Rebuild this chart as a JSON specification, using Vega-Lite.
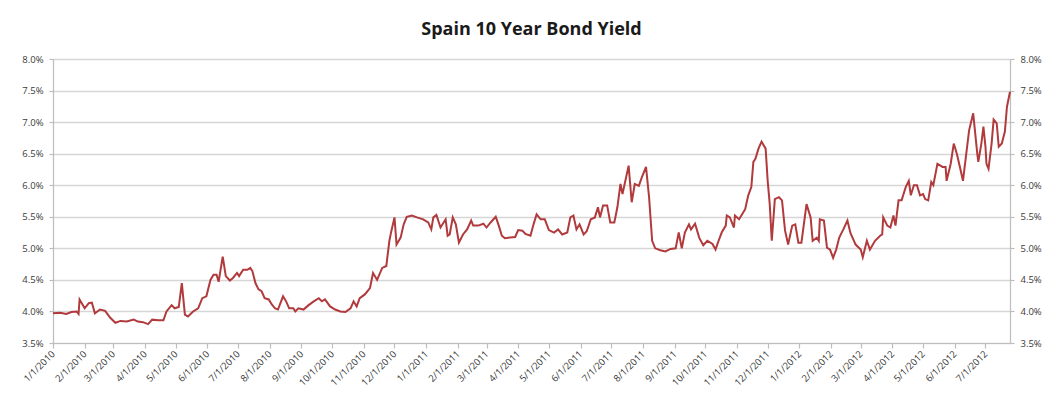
{
  "$schema": "https://vega.github.io/schema/vega-lite/v6.json",
  "width": 957,
  "height": 284,
  "autosize": "none",
  "padding": {"left": 53, "right": 33, "top": 59, "bottom": 55},
  "background": "white",
  "title": {"text": "Spain 10 Year Bond Yield", "fontSize": 18, "fontWeight": "bold", "font": "Open Sans", "color": "#1a1a1a", "offset": 15, "anchor": "middle"},
  "config": {
    "view": {"stroke": null},
    "axis": {"labelFont": "Open Sans", "labelFontSize": 9.5, "labelColor": "#3a3a3a", "domainColor": "#bdbdbd", "tickColor": "#bdbdbd", "gridColor": "#d6d6d6", "gridWidth": 1.3, "domainWidth": 1.2, "tickWidth": 1.2, "title": null}
  },
  "data": {
    "format": {"parse": {"date": "date:'%Y-%m-%d'"}},
    "values": [
      {"date": "2010-01-01", "yield": 3.97},
      {"date": "2010-01-08", "yield": 3.98},
      {"date": "2010-01-14", "yield": 3.96},
      {"date": "2010-01-19", "yield": 3.99},
      {"date": "2010-01-24", "yield": 4.0},
      {"date": "2010-01-26", "yield": 3.96},
      {"date": "2010-01-27", "yield": 4.19},
      {"date": "2010-02-01", "yield": 4.05},
      {"date": "2010-02-05", "yield": 4.13},
      {"date": "2010-02-08", "yield": 4.14},
      {"date": "2010-02-11", "yield": 3.97},
      {"date": "2010-02-16", "yield": 4.03},
      {"date": "2010-02-21", "yield": 4.01},
      {"date": "2010-02-26", "yield": 3.9},
      {"date": "2010-03-03", "yield": 3.82},
      {"date": "2010-03-08", "yield": 3.85},
      {"date": "2010-03-14", "yield": 3.84},
      {"date": "2010-03-21", "yield": 3.87},
      {"date": "2010-03-25", "yield": 3.84},
      {"date": "2010-03-30", "yield": 3.83},
      {"date": "2010-04-04", "yield": 3.8},
      {"date": "2010-04-08", "yield": 3.87},
      {"date": "2010-04-14", "yield": 3.86},
      {"date": "2010-04-19", "yield": 3.86},
      {"date": "2010-04-22", "yield": 4.0},
      {"date": "2010-04-27", "yield": 4.1},
      {"date": "2010-04-30", "yield": 4.05},
      {"date": "2010-05-04", "yield": 4.07},
      {"date": "2010-05-07", "yield": 4.45},
      {"date": "2010-05-10", "yield": 3.95},
      {"date": "2010-05-13", "yield": 3.92},
      {"date": "2010-05-18", "yield": 4.0},
      {"date": "2010-05-23", "yield": 4.05},
      {"date": "2010-05-27", "yield": 4.21},
      {"date": "2010-05-31", "yield": 4.24},
      {"date": "2010-06-04", "yield": 4.5},
      {"date": "2010-06-07", "yield": 4.58},
      {"date": "2010-06-10", "yield": 4.58},
      {"date": "2010-06-12", "yield": 4.47},
      {"date": "2010-06-16", "yield": 4.87},
      {"date": "2010-06-19", "yield": 4.56},
      {"date": "2010-06-23", "yield": 4.49},
      {"date": "2010-06-26", "yield": 4.53},
      {"date": "2010-06-30", "yield": 4.61},
      {"date": "2010-07-02", "yield": 4.56},
      {"date": "2010-07-06", "yield": 4.66},
      {"date": "2010-07-10", "yield": 4.66},
      {"date": "2010-07-13", "yield": 4.69},
      {"date": "2010-07-15", "yield": 4.64},
      {"date": "2010-07-18", "yield": 4.45},
      {"date": "2010-07-21", "yield": 4.35},
      {"date": "2010-07-24", "yield": 4.32},
      {"date": "2010-07-27", "yield": 4.21},
      {"date": "2010-07-31", "yield": 4.19},
      {"date": "2010-08-03", "yield": 4.11},
      {"date": "2010-08-06", "yield": 4.05},
      {"date": "2010-08-09", "yield": 4.03},
      {"date": "2010-08-14", "yield": 4.24},
      {"date": "2010-08-17", "yield": 4.16},
      {"date": "2010-08-20", "yield": 4.05},
      {"date": "2010-08-24", "yield": 4.05},
      {"date": "2010-08-26", "yield": 4.0},
      {"date": "2010-08-29", "yield": 4.05},
      {"date": "2010-09-03", "yield": 4.03},
      {"date": "2010-09-08", "yield": 4.1},
      {"date": "2010-09-13", "yield": 4.16},
      {"date": "2010-09-18", "yield": 4.21},
      {"date": "2010-09-21", "yield": 4.16},
      {"date": "2010-09-24", "yield": 4.19},
      {"date": "2010-09-29", "yield": 4.08},
      {"date": "2010-10-04", "yield": 4.03},
      {"date": "2010-10-09", "yield": 4.0},
      {"date": "2010-10-14", "yield": 3.99},
      {"date": "2010-10-19", "yield": 4.05},
      {"date": "2010-10-22", "yield": 4.16},
      {"date": "2010-10-25", "yield": 4.08},
      {"date": "2010-10-28", "yield": 4.21},
      {"date": "2010-11-02", "yield": 4.27},
      {"date": "2010-11-07", "yield": 4.37},
      {"date": "2010-11-10", "yield": 4.61},
      {"date": "2010-11-14", "yield": 4.5},
      {"date": "2010-11-19", "yield": 4.69},
      {"date": "2010-11-23", "yield": 4.72},
      {"date": "2010-11-26", "yield": 5.12},
      {"date": "2010-11-28", "yield": 5.28},
      {"date": "2010-12-01", "yield": 5.49},
      {"date": "2010-12-03", "yield": 5.06},
      {"date": "2010-12-07", "yield": 5.17},
      {"date": "2010-12-10", "yield": 5.38},
      {"date": "2010-12-13", "yield": 5.5},
      {"date": "2010-12-18", "yield": 5.52},
      {"date": "2010-12-23", "yield": 5.49},
      {"date": "2010-12-29", "yield": 5.46},
      {"date": "2011-01-03", "yield": 5.41},
      {"date": "2011-01-06", "yield": 5.3},
      {"date": "2011-01-08", "yield": 5.49},
      {"date": "2011-01-11", "yield": 5.53},
      {"date": "2011-01-15", "yield": 5.33},
      {"date": "2011-01-20", "yield": 5.46},
      {"date": "2011-01-22", "yield": 5.2},
      {"date": "2011-01-24", "yield": 5.22},
      {"date": "2011-01-27", "yield": 5.49},
      {"date": "2011-01-30", "yield": 5.38},
      {"date": "2011-02-02", "yield": 5.09},
      {"date": "2011-02-06", "yield": 5.22},
      {"date": "2011-02-10", "yield": 5.3},
      {"date": "2011-02-14", "yield": 5.44},
      {"date": "2011-02-16", "yield": 5.36},
      {"date": "2011-02-21", "yield": 5.36},
      {"date": "2011-02-26", "yield": 5.39},
      {"date": "2011-03-01", "yield": 5.33},
      {"date": "2011-03-05", "yield": 5.41},
      {"date": "2011-03-10", "yield": 5.5},
      {"date": "2011-03-13", "yield": 5.36},
      {"date": "2011-03-16", "yield": 5.2},
      {"date": "2011-03-19", "yield": 5.16},
      {"date": "2011-03-24", "yield": 5.17},
      {"date": "2011-03-29", "yield": 5.18},
      {"date": "2011-04-01", "yield": 5.29},
      {"date": "2011-04-05", "yield": 5.28},
      {"date": "2011-04-08", "yield": 5.23},
      {"date": "2011-04-13", "yield": 5.2},
      {"date": "2011-04-16", "yield": 5.38},
      {"date": "2011-04-19", "yield": 5.54},
      {"date": "2011-04-23", "yield": 5.46},
      {"date": "2011-04-27", "yield": 5.46},
      {"date": "2011-05-01", "yield": 5.29},
      {"date": "2011-05-06", "yield": 5.25},
      {"date": "2011-05-10", "yield": 5.3},
      {"date": "2011-05-14", "yield": 5.22},
      {"date": "2011-05-19", "yield": 5.25},
      {"date": "2011-05-22", "yield": 5.49},
      {"date": "2011-05-25", "yield": 5.52},
      {"date": "2011-05-28", "yield": 5.3},
      {"date": "2011-05-31", "yield": 5.38},
      {"date": "2011-06-04", "yield": 5.22},
      {"date": "2011-06-07", "yield": 5.27},
      {"date": "2011-06-11", "yield": 5.46},
      {"date": "2011-06-15", "yield": 5.49},
      {"date": "2011-06-18", "yield": 5.65},
      {"date": "2011-06-20", "yield": 5.49},
      {"date": "2011-06-23", "yield": 5.68},
      {"date": "2011-06-27", "yield": 5.68},
      {"date": "2011-06-30", "yield": 5.41},
      {"date": "2011-07-04", "yield": 5.41},
      {"date": "2011-07-07", "yield": 5.65},
      {"date": "2011-07-10", "yield": 6.02},
      {"date": "2011-07-12", "yield": 5.86},
      {"date": "2011-07-18", "yield": 6.31},
      {"date": "2011-07-21", "yield": 5.73},
      {"date": "2011-07-24", "yield": 6.02},
      {"date": "2011-07-28", "yield": 5.99},
      {"date": "2011-07-31", "yield": 6.13},
      {"date": "2011-08-04", "yield": 6.29},
      {"date": "2011-08-07", "yield": 5.81},
      {"date": "2011-08-10", "yield": 5.12},
      {"date": "2011-08-13", "yield": 5.0},
      {"date": "2011-08-18", "yield": 4.97},
      {"date": "2011-08-23", "yield": 4.95},
      {"date": "2011-08-28", "yield": 4.99},
      {"date": "2011-09-02", "yield": 5.0},
      {"date": "2011-09-05", "yield": 5.25},
      {"date": "2011-09-08", "yield": 5.0},
      {"date": "2011-09-11", "yield": 5.25},
      {"date": "2011-09-15", "yield": 5.38},
      {"date": "2011-09-17", "yield": 5.3},
      {"date": "2011-09-21", "yield": 5.39},
      {"date": "2011-09-25", "yield": 5.17},
      {"date": "2011-09-29", "yield": 5.05},
      {"date": "2011-10-03", "yield": 5.12},
      {"date": "2011-10-08", "yield": 5.07},
      {"date": "2011-10-11", "yield": 4.98},
      {"date": "2011-10-14", "yield": 5.12},
      {"date": "2011-10-17", "yield": 5.25},
      {"date": "2011-10-21", "yield": 5.36},
      {"date": "2011-10-22", "yield": 5.52},
      {"date": "2011-10-25", "yield": 5.49},
      {"date": "2011-10-29", "yield": 5.33},
      {"date": "2011-10-30", "yield": 5.52},
      {"date": "2011-11-03", "yield": 5.46},
      {"date": "2011-11-06", "yield": 5.54},
      {"date": "2011-11-09", "yield": 5.62},
      {"date": "2011-11-12", "yield": 5.84},
      {"date": "2011-11-15", "yield": 5.97},
      {"date": "2011-11-17", "yield": 6.37},
      {"date": "2011-11-19", "yield": 6.42},
      {"date": "2011-11-22", "yield": 6.58},
      {"date": "2011-11-25", "yield": 6.69},
      {"date": "2011-11-29", "yield": 6.58},
      {"date": "2011-12-01", "yield": 6.07},
      {"date": "2011-12-03", "yield": 5.7},
      {"date": "2011-12-05", "yield": 5.12},
      {"date": "2011-12-08", "yield": 5.78},
      {"date": "2011-12-12", "yield": 5.81},
      {"date": "2011-12-15", "yield": 5.76},
      {"date": "2011-12-18", "yield": 5.28},
      {"date": "2011-12-21", "yield": 5.06},
      {"date": "2011-12-25", "yield": 5.36},
      {"date": "2011-12-28", "yield": 5.38},
      {"date": "2011-12-31", "yield": 5.09},
      {"date": "2012-01-03", "yield": 5.09},
      {"date": "2012-01-08", "yield": 5.7},
      {"date": "2012-01-12", "yield": 5.49},
      {"date": "2012-01-14", "yield": 5.12},
      {"date": "2012-01-18", "yield": 5.17},
      {"date": "2012-01-20", "yield": 5.12},
      {"date": "2012-01-21", "yield": 5.46},
      {"date": "2012-01-25", "yield": 5.44},
      {"date": "2012-01-28", "yield": 5.01},
      {"date": "2012-01-31", "yield": 4.98},
      {"date": "2012-02-03", "yield": 4.85},
      {"date": "2012-02-06", "yield": 4.98},
      {"date": "2012-02-09", "yield": 5.17},
      {"date": "2012-02-13", "yield": 5.3},
      {"date": "2012-02-17", "yield": 5.44},
      {"date": "2012-02-20", "yield": 5.24},
      {"date": "2012-02-25", "yield": 5.06},
      {"date": "2012-03-01", "yield": 4.98},
      {"date": "2012-03-03", "yield": 4.86},
      {"date": "2012-03-07", "yield": 5.12},
      {"date": "2012-03-10", "yield": 4.98},
      {"date": "2012-03-15", "yield": 5.12},
      {"date": "2012-03-20", "yield": 5.2},
      {"date": "2012-03-22", "yield": 5.22},
      {"date": "2012-03-23", "yield": 5.49},
      {"date": "2012-03-27", "yield": 5.36},
      {"date": "2012-03-30", "yield": 5.33},
      {"date": "2012-04-02", "yield": 5.52},
      {"date": "2012-04-04", "yield": 5.36},
      {"date": "2012-04-07", "yield": 5.76},
      {"date": "2012-04-10", "yield": 5.76},
      {"date": "2012-04-14", "yield": 5.97},
      {"date": "2012-04-17", "yield": 6.07},
      {"date": "2012-04-19", "yield": 5.84},
      {"date": "2012-04-22", "yield": 6.0},
      {"date": "2012-04-25", "yield": 6.0},
      {"date": "2012-04-28", "yield": 5.84},
      {"date": "2012-05-01", "yield": 5.86},
      {"date": "2012-05-03", "yield": 5.78},
      {"date": "2012-05-06", "yield": 5.76},
      {"date": "2012-05-09", "yield": 6.05},
      {"date": "2012-05-11", "yield": 6.0},
      {"date": "2012-05-15", "yield": 6.34},
      {"date": "2012-05-20", "yield": 6.29},
      {"date": "2012-05-23", "yield": 6.29},
      {"date": "2012-05-24", "yield": 6.07},
      {"date": "2012-05-28", "yield": 6.34},
      {"date": "2012-05-31", "yield": 6.66},
      {"date": "2012-06-03", "yield": 6.5},
      {"date": "2012-06-06", "yield": 6.29},
      {"date": "2012-06-09", "yield": 6.07},
      {"date": "2012-06-12", "yield": 6.47},
      {"date": "2012-06-15", "yield": 6.87},
      {"date": "2012-06-19", "yield": 7.14},
      {"date": "2012-06-23", "yield": 6.5},
      {"date": "2012-06-24", "yield": 6.37},
      {"date": "2012-06-27", "yield": 6.66},
      {"date": "2012-06-29", "yield": 6.93},
      {"date": "2012-07-01", "yield": 6.61},
      {"date": "2012-07-02", "yield": 6.34},
      {"date": "2012-07-04", "yield": 6.26},
      {"date": "2012-07-07", "yield": 6.66},
      {"date": "2012-07-09", "yield": 7.04},
      {"date": "2012-07-12", "yield": 6.98},
      {"date": "2012-07-14", "yield": 6.61},
      {"date": "2012-07-17", "yield": 6.66},
      {"date": "2012-07-20", "yield": 6.85},
      {"date": "2012-07-22", "yield": 7.24},
      {"date": "2012-07-25", "yield": 7.48}
    ]
  },
  "encoding": {
    "x": {
      "field": "date",
      "type": "temporal",
      "scale": {"domain": [{"year": 2010, "month": 1, "date": 1}, {"year": 2012, "month": 7, "date": 25}]},
      "axis": {"format": "%-m/%-d/%Y", "tickCount": {"interval": "month", "step": 1}, "labelAngle": -45, "labelAlign": "right", "labelBaseline": "middle", "grid": false, "tickSize": 5, "labelPadding": 4, "labelOverlap": false, "labelFlush": false}
    }
  },
  "layer": [
    {
      "mark": {"type": "line", "color": "#b03a3c", "strokeWidth": 2, "interpolate": "linear"},
      "encoding": {
        "y": {
          "field": "yield", "type": "quantitative",
          "scale": {"domain": [3.5, 8], "nice": false, "zero": false},
          "axis": {"orient": "left", "values": [3.5, 4, 4.5, 5, 5.5, 6, 6.5, 7, 7.5, 8], "labelExpr": "format(datum.value, '.1f') + '%'", "grid": true, "tickSize": 4, "labelPadding": 6}
        }
      }
    },
    {
      "mark": {"type": "line", "strokeOpacity": 0},
      "encoding": {
        "y": {
          "field": "yield", "type": "quantitative",
          "scale": {"domain": [3.5, 8], "nice": false, "zero": false},
          "axis": {"orient": "right", "values": [3.5, 4, 4.5, 5, 5.5, 6, 6.5, 7, 7.5, 8], "labelExpr": "format(datum.value, '.1f') + '%'", "grid": false, "tickSize": 4, "labelPadding": 6}
        }
      }
    }
  ],
  "resolve": {"scale": {"y": "independent"}}
}
